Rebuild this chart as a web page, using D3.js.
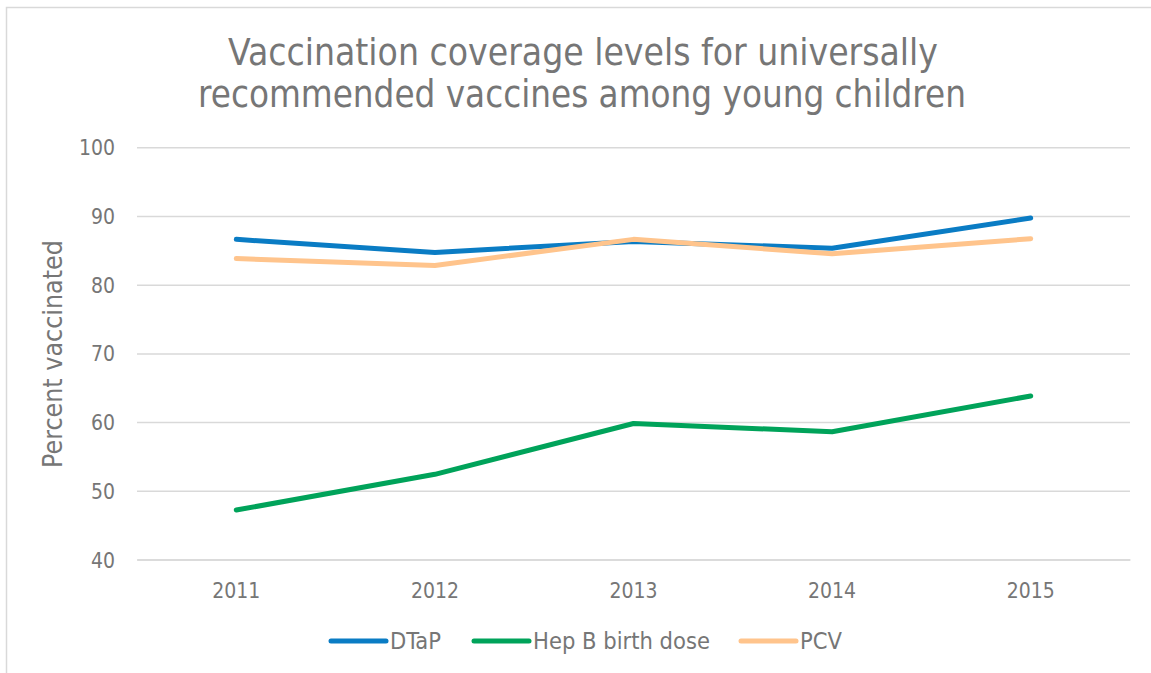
<!DOCTYPE html>
<html>
<head>
<meta charset="utf-8">
<script src="https://cdn.jsdelivr.net/npm/d3@7"></script>
<style>
  html, body { margin: 0; padding: 0; background: #fff; }
  svg { display: block; }
  text { font-family: "DejaVu Sans Condensed", "DejaVu Sans", sans-serif; font-stretch: condensed; }
</style>
</head>
<body>
<svg id="chart" width="1151" height="673"></svg>
<script>
const years = ["2011", "2012", "2013", "2014", "2015"];
const dtap = [86.6, 84.7, 86.3, 85.3, 89.7];
const hepB = [47.2, 52.4, 59.8, 58.6, 63.8];
const pcv = [83.8, 82.8, 86.6, 84.5, 86.7];
const seriesNames = ["DTaP", "Hep B birth dose", "PCV"];
const seriesColors = ["#0a7cc4", "#00a35a", "#ffc48c"];
const yTicks = [40, 50, 60, 70, 80, 90, 100];
const titleLines = ["Vaccination coverage levels for universally", "recommended vaccines among young children"];
const yTitle = "Percent vaccinated";

const svg = d3.select("#chart");
const textColor = "#767676";

svg.append("rect").attr("x", 6.5).attr("y", 7.5).attr("width", 1160).attr("height", 700)
  .attr("fill", "none").attr("stroke", "#d9d9d9").attr("stroke-width", 1.5);

const x = d3.scaleBand().domain(years).range([137, 1130]).padding(0);
const y = d3.scaleLinear().domain([40, 100]).range([559.5, 147.3]);

// scale font size of a selection so that a reference node reaches target width
function fitGroup(sel, refNode, target) {
  const w = refNode.getComputedTextLength();
  const fs = parseFloat(refNode.getAttribute("font-size"));
  sel.attr("font-size", (fs * target / w).toFixed(2));
}
function fit(sel, target) { fitGroup(sel, sel.node(), target); }

const yAxis = d3.axisLeft(y).tickValues(yTicks).tickSize(-(1130 - 137)).tickPadding(22).tickFormat(d3.format("d"));
const gy = svg.append("g").attr("transform", "translate(137,0)").call(yAxis);
gy.select(".domain").remove();
gy.selectAll(".tick line").attr("stroke", "#d9d9d9").attr("stroke-width", 1.5);
const yt = gy.selectAll(".tick text").attr("fill", textColor).attr("font-size", 21).attr("dy", "0.36em");
fitGroup(yt, yt.filter(d => d === 100).node(), 36);

const xAxis = d3.axisBottom(x).tickSize(0).tickPadding(0);
const gx = svg.append("g").attr("transform", "translate(0,559.5)").call(xAxis);
gx.select(".domain").attr("stroke", "#d9d9d9").attr("stroke-width", 1.5);
const xt = gx.selectAll(".tick text").attr("fill", textColor).attr("font-size", 21).attr("dy", null).attr("y", 38);
fitGroup(xt, xt.node(), 48);

svg.append("text").attr("transform", "translate(62,354) rotate(-90)")
  .attr("text-anchor", "middle").attr("fill", textColor).attr("font-size", 22).text(yTitle)
  .call(fit, 228);

const tl = svg.append("g");
tl.append("text").attr("x", 583).attr("y", 65).attr("text-anchor", "middle")
  .attr("fill", textColor).attr("font-size", 36).text(titleLines[0]).call(fit, 710);
tl.append("text").attr("x", 582).attr("y", 107).attr("text-anchor", "middle")
  .attr("fill", textColor).attr("font-size", 36).text(titleLines[1]).call(fit, 768);

const data = [dtap, hepB, pcv];
const line = d3.line().x((d, i) => x(years[i]) + x.bandwidth() / 2).y(d => y(d));
svg.append("g").selectAll("path").data(data).join("path")
  .attr("d", d => line(d)).attr("fill", "none")
  .attr("stroke", (d, i) => seriesColors[i]).attr("stroke-width", 5)
  .attr("stroke-linecap", "round").attr("stroke-linejoin", "round");

const legendX = [331, 474, 741];
const lg = svg.append("g");
seriesNames.forEach((n, i) => {
  lg.append("line").attr("x1", legendX[i]).attr("x2", legendX[i] + 55).attr("y1", 641).attr("y2", 641)
    .attr("stroke", seriesColors[i]).attr("stroke-width", 5).attr("stroke-linecap", "round");
});
const lt = lg.selectAll("text.lab").data(seriesNames).join("text").attr("class", "lab")
  .attr("x", (d, i) => legendX[i] + 59).attr("y", 649).attr("fill", textColor)
  .attr("font-size", 21).text(d => d);
fitGroup(lt, lt.filter((d, i) => i === 1).node(), 177);
</script>
</body>
</html>
